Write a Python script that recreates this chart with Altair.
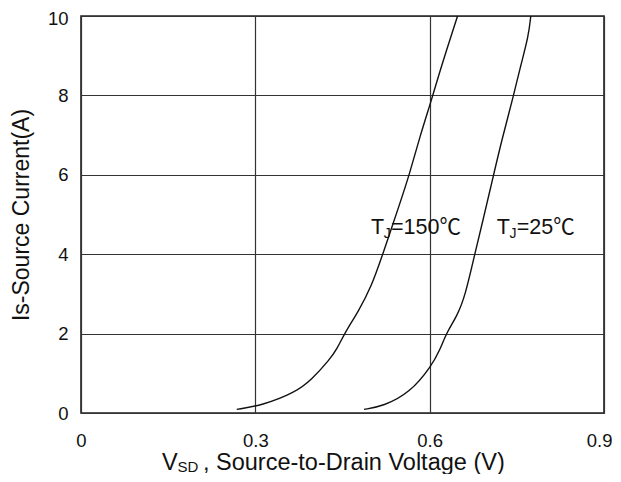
import altair as alt
import pandas as pd

# Curve values
v_150 = [0.268, 0.311, 0.368, 0.397, 0.428, 0.440, 0.454, 0.477, 0.500, 0.520, 0.549, 0.565, 0.583, 0.605, 0.618, 0.648]
i_150 = [0.09, 0.19, 0.51, 0.84, 1.35, 1.60, 2.02, 2.55, 3.19, 4.03, 5.29, 6.00, 6.96, 7.97, 8.64, 10.0]
v_25 = [0.487, 0.520, 0.566, 0.603, 0.618, 0.629, 0.647, 0.661, 0.678, 0.692, 0.704, 0.724, 0.744, 0.756, 0.770, 0.774]
i_25 = [0.09, 0.17, 0.51, 1.18, 1.60, 2.02, 2.44, 2.94, 4.03, 4.87, 5.62, 6.88, 7.97, 8.72, 9.48, 10.0]

x_ticks = [0, 0.3, 0.6, 0.9]
y_ticks = [0, 2, 4, 6, 8, 10]

label_names = ["150", "25"]
label_v = [0.499, 0.7155]
label_i = [4.50, 4.50]
label_rest = ["=150℃", "=25℃"]

FONT = "Liberation Sans, Arial, Noto Sans CJK SC, sans-serif"
W, H = 523, 397

rows = []
for v, i in zip(v_150, i_150):
    rows.append({"V": v, "I": i, "T": "150"})
for v, i in zip(v_25, i_25):
    rows.append({"V": v, "I": i, "T": "25"})
df = pd.DataFrame(rows)

lab = pd.DataFrame({"T": label_names, "V": label_v, "I": label_i, "rest": label_rest})

xs = alt.Scale(domain=[0, 0.9], nice=False, zero=False)
ys = alt.Scale(domain=[0, 10], nice=False)

x_axis = alt.Axis(values=x_ticks, format=".1~f", title=None, grid=True, ticks=False,
                  domain=False, labelFont=FONT, labelFontSize=18.5, labelColor="#111",
                  labelPadding=18, labelFlush=False, labelOverlap=False,
                  labelAlign={"condition": {"test": "datum.value >= 0.9", "value": "right"}, "value": "center"},
                  labelOffset={"condition": {"test": "datum.value >= 0.9", "value": 8}, "value": 0},
                  gridColor="#333", gridWidth=1.2)
y_axis = alt.Axis(values=y_ticks, title="Is-Source Current(A)", grid=True, ticks=False,
                  domain=False, labelFont=FONT, labelFontSize=18.5, labelColor="#111",
                  labelPadding=13, labelFlush=False, labelOverlap=False,
                  labelBaseline={"condition": {"test": "datum.value >= 10", "value": "top"}, "value": "middle"},
                  labelOffset={"condition": {"test": "datum.value >= 10", "value": -7}, "value": 0},
                  titleFont=FONT, titleFontSize=23,
                  titleFontWeight="normal", titleColor="#111", titlePadding=14,
                  gridColor="#333", gridWidth=1.2)

lines = alt.Chart(df).mark_line(color="#111", strokeWidth=1.4, interpolate="basis").encode(
    x=alt.X("V:Q", scale=xs, axis=x_axis),
    y=alt.Y("I:Q", scale=ys, axis=y_axis),
    detail="T:N",
)

base_lab = alt.Chart(lab).encode(
    x=alt.X("V:Q", scale=xs),
    y=alt.Y("I:Q", scale=ys),
)
t_main = base_lab.mark_text(font=FONT, fontSize=21.5, align="left", baseline="alphabetic",
                            color="#111").encode(text=alt.value("T"))
t_sub = base_lab.mark_text(font=FONT, fontSize=14, align="left", baseline="alphabetic",
                           color="#111", dx=12.8, dy=4).encode(text=alt.value("J"))
t_rest = base_lab.mark_text(font=FONT, fontSize=21.5, align="left", baseline="alphabetic",
                            color="#111", dx=20).encode(text="rest:N")

title_df = pd.DataFrame({"k": [0]})
tt = alt.Chart(title_df)
xt_v = tt.mark_text(font=FONT, fontSize=23.5, align="left", baseline="alphabetic", color="#111").encode(
    x=alt.value(81), y=alt.value(454), text=alt.value("V"))
xt_sd = tt.mark_text(font=FONT, fontSize=15, align="left", baseline="alphabetic", color="#111").encode(
    x=alt.value(96.5), y=alt.value(456), text=alt.value("SD"))
xt_rest = tt.mark_text(font=FONT, fontSize=23.5, align="left", baseline="alphabetic", color="#111").encode(
    x=alt.value(122), y=alt.value(454), text=alt.value(", Source-to-Drain Voltage (V)"))

chart = alt.layer(lines, t_main, t_sub, t_rest, xt_v, xt_sd, xt_rest).properties(
    width=W, height=H,
    autosize=alt.AutoSizeParams(type="none"),
    padding={"left": 73, "top": 8, "right": 9, "bottom": 61},
    background="white",
).configure_view(stroke="#222", strokeWidth=1.6)

chart.save("out.html", embed_options={"renderer": "svg", "actions": False})
